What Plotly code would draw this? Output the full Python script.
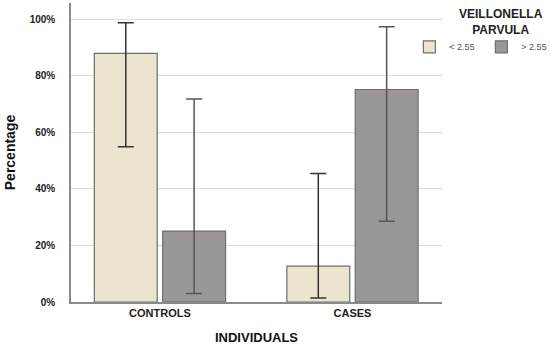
import plotly.graph_objects as go

categories = ["CONTROLS", "CASES"]
series_names = ["< 2.55", "> 2.55"]
low_vals = [88.0, 12.7]
low_err_hi = [98.8, 45.5]
low_err_lo = [54.9, 1.4]
high_vals = [25.1, 75.2]
high_err_hi = [71.8, 97.4]
high_err_lo = [3.0, 28.6]
y_ticks = [0, 20, 40, 60, 80, 100]
y_labels = ["0%", "20%", "40%", "60%", "80%", "100%"]
legend_title = "VEILLONELLA<br>PARVULA"

colors = ["#EBE4CE", "#9B9797"]
err_colors = ["#333333", "#555555"]

fig = go.Figure()
for name, vals, hi, lo, col, ecol in [
    (series_names[0], low_vals, low_err_hi, low_err_lo, colors[0], err_colors[0]),
    (series_names[1], high_vals, high_err_hi, high_err_lo, colors[1], err_colors[1]),
]:
    fig.add_trace(go.Bar(
        x=categories, y=vals, name=name,
        marker=dict(color=col, line=dict(color="#6E6E6E", width=1.2)),
        error_y=dict(type="data", symmetric=False,
                     array=[h - v for h, v in zip(hi, vals)],
                     arrayminus=[v - l for v, l in zip(vals, lo)],
                     color=ecol, thickness=1.5, width=8),
    ))

fig.update_layout(
    width=550, height=345,
    margin=dict(l=71, r=108, t=3, b=43, autoexpand=False),
    paper_bgcolor="white", plot_bgcolor="white",
    barmode="group", bargap=0.29, bargroupgap=0.08,
    font=dict(family="Liberation Sans, Arial", color="#222222"),
    showlegend=True,
    legend=dict(
        orientation="h", x=0.912, xanchor="left", y=0.902, yanchor="top",
        bgcolor="rgba(0,0,0,0)",
        font=dict(size=9, color="#555555"),
        entrywidth=27, entrywidthmode="pixels",
        itemwidth=30, tracegroupgap=0,
    ),
    annotations=[dict(
        text="<b>%s</b>" % legend_title, xref="paper", yref="paper",
        x=1.16, y=0.935, xanchor="center", yanchor="middle", align="center",
        showarrow=False, font=dict(size=12, color="#222222"),
    )],
    xaxis=dict(
        range=[-0.462, 1.465], automargin=False,
        showline=True, linecolor="#8A8A8A", linewidth=1.5,
        showgrid=False, ticks="",
        tickfont=dict(size=11, color="#222222"),
        title=dict(text="<b>INDIVIDUALS</b>", font=dict(size=13, color="#111111"), standoff=15),
    ),
    yaxis=dict(
        range=[0, 105.8], automargin=False,
        tickvals=y_ticks, ticktext=["<b>%s</b>" % t for t in y_labels],
        showline=True, linecolor="#8A8A8A", linewidth=1.5,
        showgrid=True, gridcolor="#DCDCDC", gridwidth=1.2,
        ticks="outside", ticklen=12, tickcolor="white",
        tickfont=dict(size=10, color="#222222"),
        zeroline=False,
        title=dict(text="<b>Percentage</b>", font=dict(size=14, color="#111111"), standoff=11),
    ),
)
fig.update_xaxes(tickvals=categories, ticktext=["<b>%s</b>" % c for c in categories])

fig.write_html("out.html", config={"displayModeBar": False},
               post_script="document.body.style.margin='0';")
